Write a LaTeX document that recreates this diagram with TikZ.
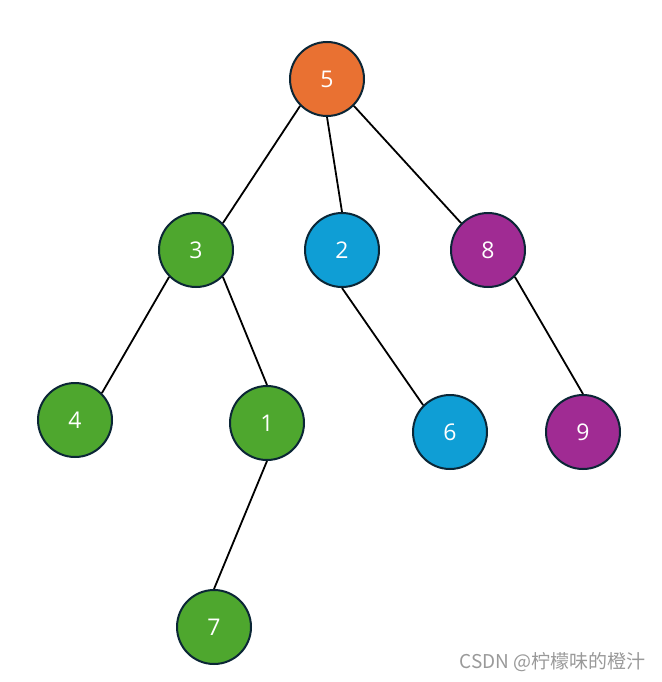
\documentclass[tikz,border=0pt]{standalone}
\usepackage{fontspec}
\setsansfont{Open Sans}
\newfontfamily\cjk{Noto Sans CJK SC}
\definecolor{naranja}{HTML}{E97132}
\definecolor{verde}{HTML}{4EA72E}
\definecolor{azul}{HTML}{0F9ED5}
\definecolor{morado}{HTML}{A02B93}
\definecolor{borde}{HTML}{0B2636}
\begin{document}
\begin{tikzpicture}[x=1pt, y=-1pt,
  nodo/.style={circle, draw=borde, line width=2pt, minimum size=74pt, inner sep=0pt,
    text=white, font=\sffamily\fontsize{23}{23}\selectfont},
  arista/.style={line width=1.8pt, black}]
  \useasboundingbox (0,0) rectangle (661,682);
  % Raiz
  \node[nodo, fill=naranja] (n5) at (327,79) {5};
  
  % Nivel 1
  \node[nodo, fill=verde] (n3) at (196,250) {3};
  \node[nodo, fill=azul] (n2) at (342,250) {2};
  \node[nodo, fill=morado] (n8) at (488,250) {8};
  
  % Nivel 2
  \node[nodo, fill=verde] (n4) at (75,420) {4};
  \node[nodo, fill=verde] (n1) at (267,423) {1};
  \node[nodo, fill=azul] (n6) at (450,432) {6};
  \node[nodo, fill=morado] (n9) at (583,432) {9};
  
  % Nivel 3
  \node[nodo, fill=verde] (n7) at (214,627) {7};
  
  % Aristas (puntos de conexion en los bordes)
  \draw[arista] (n5.-135) -- (n3.45);
  \draw[arista] (n5.south) -- (n2.north);
  \draw[arista] (n5.-45) -- (n8.135);
  \draw[arista] (n3.-135) -- (n4.45);
  \draw[arista] (n3.-45) -- (n1.north);
  \draw[arista] (n1.south) -- (n7.north);
  \draw[arista] (n2.south) -- (n6.135);
  \draw[arista] (n8.-45) -- (n9.north);
  
  % Marca de agua
  \node[anchor=east, text=black!40, inner sep=0pt, font=\cjk\fontsize{19}{19}\selectfont]
    (marca) at (646,662) {CSDN @柠檬味的橙汁};
\end{tikzpicture}
\end{document}
